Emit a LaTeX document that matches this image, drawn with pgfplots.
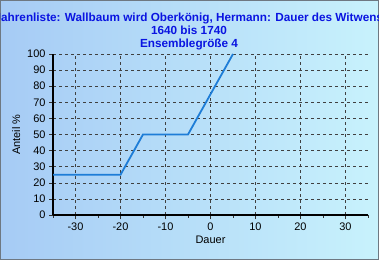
\documentclass[border=0pt]{standalone}
\usepackage{fontspec}
\setmainfont{Liberation Sans}
\usepackage{pgfplots}
\pgfplotsset{compat=1.18}
\definecolor{bgL}{RGB}{166,203,245}
\definecolor{bgR}{RGB}{200,242,252}
\definecolor{ttl}{RGB}{10,20,225}
\definecolor{ln}{RGB}{30,125,215}
\definecolor{frm}{RGB}{110,120,130}
\begin{document}
\begin{tikzpicture}[x=1bp,y=1bp]
\clip (0,0) rectangle (379,260);
\shade[left color=bgL,right color=bgR] (0,0) rectangle (379,260);
\draw[frm, line width=1.2bp] (0.6,0.6) rectangle (378.4,259.4);
\node[anchor=base west, inner sep=0pt, text=ttl, font=\bfseries\fontsize{11.8}{14}\selectfont] at (1,239) {\llap{J}ahrenliste: Wallbaum wird Oberkönig, Hermann: Dauer des Witwenstandes};
\node[anchor=base, inner sep=0pt, text=ttl, font=\bfseries\fontsize{11.8}{14}\selectfont] at (189,226) {1640 bis 1740};
\node[anchor=base, inner sep=0pt, text=ttl, font=\bfseries\fontsize{11.8}{14}\selectfont] at (189,213) {Ensemblegröße 4};
\begin{axis}[
  at={(53bp,45bp)}, anchor=south west,
  scale only axis, width=315bp, height=161bp,
  xmin=-35, xmax=35, ymin=0, ymax=100,
  xtick={-30,-20,...,30}, minor xtick={-35,-25,...,35},
  xticklabels={-30,-20,-10,0,10,20,30},
  ytick={0,10,...,100},
  /pgf/number format/assume math mode=true,
  axis x line*=bottom, axis y line*=left,
  axis line style={line width=1.6bp, black, -},
  grid=major,
  major grid style={dash pattern=on 3bp off 3bp, black!75, line width=0.5bp},
  tick style={black!80, line width=0.5bp},
  tick align=outside, major tick length=4bp, minor tick length=2.5bp,
  tick label style={font=\fontsize{11}{12}\selectfont},
  label style={font=\fontsize{11}{12}\selectfont},
  xlabel={Dauer}, ylabel={Anteil \%},
  xlabel style={yshift=1bp},
  ylabel style={yshift=0bp},
]
\addplot[ln, line width=1.8bp] coordinates {(-35,25) (-20,25) (-15,50) (-5,50) (0,75) (5,100)};
\draw[dash pattern=on 3bp off 3bp, black!75, line width=0.5bp] (axis cs:35,0) -- (axis cs:35,100);
\end{axis}
\end{tikzpicture}
\end{document}
